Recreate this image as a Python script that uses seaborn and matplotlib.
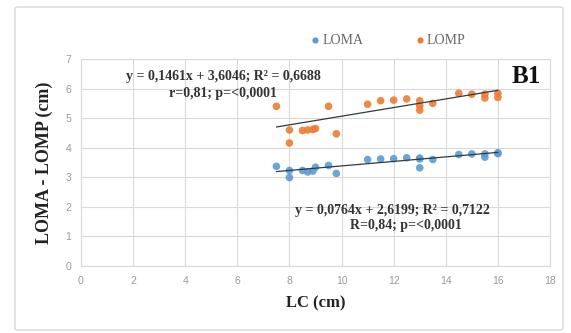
import numpy as np
import pandas as pd
import matplotlib
matplotlib.use("Agg")
import matplotlib.pyplot as plt
import seaborn as sns
from matplotlib.patches import FancyBboxPatch
from matplotlib.lines import Line2D

# ---- data ----
lc = [7.5, 8.0, 8.0, 8.5, 8.7, 8.9, 9.0, 9.5, 9.8, 11.0, 11.5, 12.0, 12.5,
      13.0, 13.0, 13.0, 13.5, 14.5, 15.0, 15.5, 15.5, 16.0, 16.0]
loma = [3.37, 3.23, 2.99, 3.23, 3.18, 3.21, 3.34, 3.40, 3.13, 3.60, 3.62, 3.63, 3.66,
        3.65, 3.32, 3.62, 3.60, 3.77, 3.79, 3.79, 3.68, 3.83, 3.80]
lomp = [5.40, 4.60, 4.16, 4.58, 4.60, 4.62, 4.65, 5.40, 4.47, 5.47, 5.59, 5.61, 5.65,
        5.59, 5.42, 5.27, 5.50, 5.84, 5.81, 5.81, 5.68, 5.84, 5.70]
series = ["LOMA", "LOMP"]
slopes = [0.0764, 0.1461]
intercepts = [2.6199, 3.6046]
eq_lomp = ["y = 0,1461x + 3,6046; R² = 0,6688", "r=0,81; p=<0,0001"]
eq_loma = ["y = 0,0764x + 2,6199; R² = 0,7122", "R=0,84; p=<0,0001"]
x_ticks = [0, 2, 4, 6, 8, 10, 12, 14, 16, 18]
y_ticks = [0, 1, 2, 3, 4, 5, 6, 7]

df = pd.DataFrame({"LC": lc * 2,
                   "val": loma + lomp,
                   "serie": ["LOMA"] * len(lc) + ["LOMP"] * len(lc)})
colors = {"LOMA": "#5B9BD5", "LOMP": "#ED7D31"}

sns.set_theme(style="white")
plt.rcParams["font.family"] = ["Liberation Serif", "DejaVu Serif"]

fig = plt.figure(figsize=(5.71, 3.33), dpi=100)
fig.patch.set_facecolor("white")
# outer chart border
border = FancyBboxPatch((15 / 571, 3 / 333), 548 / 571, 323 / 333,
                        boxstyle="round,pad=0,rounding_size=0.005",
                        transform=fig.transFigure, fill=False,
                        edgecolor="#D9D9D9", lw=1.0)
fig.patches.append(border)

ax = fig.add_axes([81 / 571, 67 / 333, 469 / 571, 207 / 333])
sns.scatterplot(data=df, x="LC", y="val", hue="serie", palette=colors,
                s=30, edgecolor="none", alpha=0.9, legend=False, ax=ax, zorder=3)

xr = np.array([min(lc), max(lc)])
for s, b in zip(slopes, intercepts):
    ax.plot(xr, s * xr + b, color="#2F3B3F", lw=0.9, zorder=4)

ax.set_xlim(0, 18)
ax.set_ylim(0, 7)
ax.set_xticks(x_ticks)
ax.set_yticks(y_ticks)
ax.grid(True, color="#D9D9D9", lw=0.8)
for sp in ax.spines.values():
    sp.set_color("#D9D9D9")
    sp.set_linewidth(0.8)
ax.tick_params(axis="both", length=0, labelsize=7.5, labelcolor="#9A9A9A", pad=7)
for lab in ax.get_xticklabels() + ax.get_yticklabels():
    lab.set_family(["Liberation Sans", "DejaVu Sans"])

ax.set_xlabel("LC (cm)", fontsize=12, fontweight="bold", color="#222222", labelpad=7)
ax.set_ylabel("LOMA - LOMP (cm)", fontsize=13, fontweight="bold", color="#222222", labelpad=9)

txt_kw = dict(fontsize=10, fontweight="bold", color="#333333", ha="center", va="center", zorder=5)
ax.text(5.45, 6.42, eq_lomp[0], **txt_kw)
ax.text(5.45, 5.83, eq_lomp[1], **txt_kw)
ax.text(11.95, 1.89, eq_loma[0], **txt_kw)
ax.text(12.45, 1.38, eq_loma[1], **txt_kw)
ax.text(17.1, 6.42, "B1", fontsize=18, fontweight="bold", color="#111111",
        ha="center", va="center", zorder=5)

handles = [Line2D([0], [0], marker="o", ls="", markersize=4.5,
                  markerfacecolor=colors[k], markeredgecolor="none", label=k) for k in series]
leg = fig.legend(handles=handles, loc="center", bbox_to_anchor=(387 / 571, 1 - 41 / 333),
                 ncol=2, frameon=False, fontsize=10, handletextpad=0.0,
                 columnspacing=3.6, handlelength=1.0)
for t in leg.get_texts():
    t.set_color("#666666")

fig.savefig("out.png", dpi=100, facecolor="white")
